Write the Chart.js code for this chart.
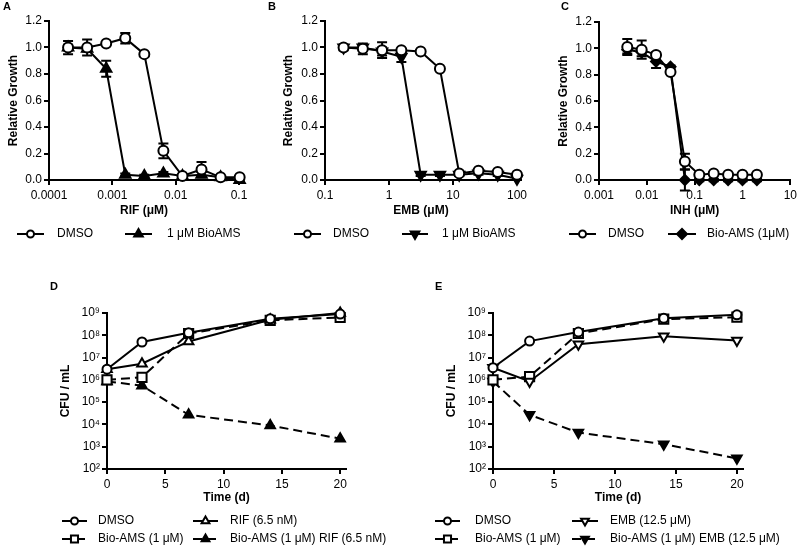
<!DOCTYPE html>
<html>
<head>
<meta charset="utf-8">
<script src="https://cdn.jsdelivr.net/npm/chart.js@4.4.0/dist/chart.umd.min.js"></script>
<style>
  body { margin: 0; background: #fff; width: 800px; height: 546px; position: relative; overflow: hidden; }
  canvas { position: absolute; }
</style>
</head>
<body>
<canvas id="chartA" width="265" height="270" style="left:0;top:0"></canvas>
<canvas id="chartB" width="265" height="270" style="left:265px;top:0"></canvas>
<canvas id="chartC" width="270" height="270" style="left:530px;top:0"></canvas>
<canvas id="chartD" width="400" height="271" style="left:0;top:275px"></canvas>
<canvas id="chartE" width="400" height="271" style="left:400px;top:275px"></canvas>
<script>
// A - RIF dose response
const rifConc = [0.0002, 0.0004, 0.0008, 0.0016, 0.0032, 0.0064, 0.0128, 0.0256, 0.0512, 0.1024];
const rifDmso = [1.00, 1.00, 1.03, 1.07, 0.95, 0.22, 0.03, 0.08, 0.02, 0.02];
const rifDmsoErr = [0.05, 0.06, 0.01, 0.04, 0.01, 0.055, 0.01, 0.055, 0.01, 0.01];
const rifBio = [1.00, 0.99, 0.84, 0.04, 0.03, 0.05, 0.03, 0.04, 0.02, 0.00];
const rifBioErr = [0.02, 0.02, 0.06, 0.01, 0.01, 0.01, 0.01, 0.02, 0.01, 0.01];

// B - EMB dose response
const embConc = [0.195, 0.39, 0.78, 1.56, 3.125, 6.25, 12.5, 25, 50, 100];
const embDmso = [1.00, 0.99, 0.98, 0.98, 0.97, 0.84, 0.05, 0.07, 0.06, 0.04];
const embDmsoErr = [0.02, 0.04, 0.06, 0.01, 0.01, 0.01, 0.01, 0.01, 0.01, 0.01];
const embBio = [1.00, 1.00, 0.97, 0.93, 0.04, 0.04, 0.04, 0.05, 0.04, 0.01];
const embBioErr = [0.01, 0.02, 0.03, 0.04, 0.01, 0.01, 0.01, 0.01, 0.01, 0.01];

// C - INH dose response
const inhConc = [0.0039, 0.0078, 0.0156, 0.03125, 0.0625, 0.125, 0.25, 0.5, 1, 2];
const inhDmso = [1.01, 0.99, 0.95, 0.82, 0.14, 0.04, 0.05, 0.04, 0.04, 0.04];
const inhDmsoErr = [0.06, 0.07, 0.02, 0.01, 0.06, 0.01, 0.01, 0.01, 0.01, 0.01];
const inhBio = [0.99, 0.97, 0.90, 0.86, 0.00, 0.00, 0.00, 0.00, 0.00, 0.00];
const inhBioErr = [0.03, 0.03, 0.05, 0.01, 0.08, 0.01, 0.01, 0.01, 0.01, 0.01];

// D / E - time kill
const days = [0, 3, 7, 14, 20];
const dDmso = [3e6, 5e7, 1.3e8, 5.5e8, 9e8];
const dBio = [1e6, 1.3e6, 1.2e8, 4.7e8, 6.3e8];
const dRif = [3e6, 5.3e6, 5.3e7, 5e8, 1e9];
const dBioRif = [8.5e5, 5.5e5, 2.7e4, 9e3, 2.3e3];

const eDmso = [3.5e6, 5.5e7, 1.4e8, 5.8e8, 8.3e8];
const eBio = [1e6, 1.4e6, 1.2e8, 5.3e8, 6.5e8];
const eEmb = [3.5e6, 8.5e5, 4e7, 9e7, 5.8e7];
const eBioEmb = [8.5e5, 2.7e4, 4.3e3, 1.3e3, 3e2];

// ticks
const growthTicks = [0, 0.2, 0.4, 0.6, 0.8, 1.0, 1.2];
const rifTicks = [0.0001, 0.001, 0.01, 0.1];
const rifLabels = ['0.0001', '0.001', '0.01', '0.1'];
const embTicks = [0.1, 1, 10, 100];
const embLabels = ['0.1', '1', '10', '100'];
const inhTicks = [0.001, 0.01, 0.1, 1, 10];
const inhLabels = ['0.001', '0.01', '0.1', '1', '10'];
const dayTicks = [0, 5, 10, 15, 20];
const cfuTicks = [1e2, 1e3, 1e4, 1e5, 1e6, 1e7, 1e8, 1e9];
const cfuLabels = ['10²', '10³', '10⁴', '10⁵', '10⁶', '10⁷', '10⁸', '10⁹'];

Chart.defaults.font.family = '"Liberation Sans", Arial, sans-serif';
Chart.defaults.font.size = 12;
Chart.defaults.color = '#000';

const FONT = '"Liberation Sans", Arial, sans-serif';

let errorBars = {
    id: 'errorBars',
    beforeDatasetsDraw(chart) {
        const ctx = chart.ctx;
        const ys = chart.scales.y;
        chart.data.datasets.forEach((ds, i) => {
            if (!ds.errors) return;
            const meta = chart.getDatasetMeta(i);
            ctx.save();
            ctx.strokeStyle = '#000';
            ctx.lineWidth = 2;
            meta.data.forEach((pt, j) => {
                const e = ds.errors[j];
                if (!e) return;
                const v = ds.data[j].y;
                const top = ys.getPixelForValue(v + e);
                const bot = ys.getPixelForValue(v - e);
                ctx.beginPath();
                ctx.moveTo(pt.x, top); ctx.lineTo(pt.x, bot);
                ctx.moveTo(pt.x - 5, top); ctx.lineTo(pt.x + 5, top);
                ctx.moveTo(pt.x - 5, bot); ctx.lineTo(pt.x + 5, bot);
                ctx.stroke();
            });
            ctx.restore();
        });
    }
};

let lineLegend = {
    id: 'lineLegend',
    afterDraw(chart, args, opts) {
        const ctx = chart.ctx;
        opts.items.forEach(it => {
            const ds = chart.data.datasets[it.ds];
            ctx.save();
            ctx.strokeStyle = '#000';
            ctx.lineWidth = 2;
            ctx.setLineDash(ds.borderDash || []);
            ctx.beginPath();
            ctx.moveTo(it.x1, it.y);
            ctx.lineTo(it.x2, it.y);
            ctx.stroke();
            ctx.setLineDash([]);
            ctx.fillStyle = ds.pointBackgroundColor;
            Chart.helpers.drawPoint(ctx, {
                pointStyle: ds.pointStyle,
                rotation: ds.pointRotation || 0,
                radius: it.r,
                borderWidth: 2
            }, (it.x1 + it.x2) / 2, it.y);
            ctx.fillStyle = '#000';
            ctx.font = '12px ' + FONT;
            ctx.textBaseline = 'middle';
            ctx.fillText(ds.label, it.tx, it.y);
            ctx.restore();
        });
        ctx.save();
        ctx.fillStyle = '#000';
        ctx.font = 'bold 11px ' + FONT;
        ctx.textBaseline = 'middle';
        ctx.fillText(opts.tag, opts.tagX, opts.tagY);
        ctx.restore();
    }
};

function pairs(xs, ys) {
    return xs.map((x, i) => ({ x: x, y: ys[i] }));
}

function series(label, xs, ys, errs, style, open, radius, dashed, rotation) {
    return {
        label: label,
        data: pairs(xs, ys),
        errors: errs,
        borderColor: '#000',
        borderWidth: 2,
        borderDash: dashed ? [9, 5] : [],
        pointStyle: style,
        pointRotation: rotation || 0,
        pointRadius: radius,
        pointBorderWidth: 2,
        pointBorderColor: '#000',
        pointBackgroundColor: open ? '#fff' : '#000',
        tension: 0,
        clip: false
    };
}

function axisStyle(title, titlePad) {
    return {
        grid: { drawOnChartArea: false, drawTicks: true, tickLength: 5, color: '#000', lineWidth: 2 },
        border: { color: '#000', width: 2 },
        title: { display: true, text: title, font: { size: 12, weight: 'bold' }, color: '#000', padding: titlePad }
    };
}

function makeChart(id, cfg) {
    const ctx = document.getElementById(id).getContext('2d');
    const x = Object.assign(axisStyle(cfg.xTitle, { top: 2, bottom: 4 }), {
        type: cfg.xType, min: cfg.xMin, max: cfg.xMax,
        afterBuildTicks: s => { s.ticks = cfg.xTicks.map(v => ({ value: v })); },
        afterFit: s => { s.height = cfg.xHeight; },
        ticks: { callback: (v, i) => cfg.xLabels[i], autoSkip: false, maxRotation: 0, padding: 3, color: '#000' }
    });
    const y = Object.assign(axisStyle(cfg.yTitle, { top: 4, bottom: 2 }), {
        type: cfg.yType, min: cfg.yMin, max: cfg.yMax,
        afterBuildTicks: s => { s.ticks = cfg.yTicks.map(v => ({ value: v })); },
        afterFit: s => { s.width = cfg.yWidth; },
        ticks: { callback: (v, i) => cfg.yLabels[i], autoSkip: false, padding: 2, color: '#000' }
    });
    return new Chart(ctx, {
        type: 'line',
        data: { datasets: cfg.datasets },
        options: {
            responsive: false,
            animation: false,
            devicePixelRatio: 1,
            layout: { padding: cfg.padding },
            scales: { x: x, y: y },
            plugins: {
                legend: { display: false },
                tooltip: { enabled: false },
                lineLegend: cfg.legend
            }
        },
        plugins: [errorBars, lineLegend]
    });
}

const growthLabels = growthTicks.map(v => v.toFixed(1));

window.onload = function () {
    makeChart('chartA', {
        xType: 'logarithmic', xMin: 0.0001, xMax: 0.1, xTicks: rifTicks, xLabels: rifLabels, xTitle: 'RIF (μM)', xHeight: 42,
        yType: 'linear', yMin: 0, yMax: 1.2, yTicks: growthTicks, yLabels: growthLabels, yTitle: 'Relative Growth', yWidth: 47,
        padding: { left: 2, top: 21, right: 26, bottom: 48 },
        datasets: [
            series('DMSO', rifConc, rifDmso, rifDmsoErr, 'circle', true, 5),
            series('1 μM BioAMS', rifConc, rifBio, rifBioErr, 'triangle', false, 6)
        ],
        legend: {
            tag: 'A', tagX: 3, tagY: 7,
            items: [
                { ds: 0, x1: 17, x2: 44, y: 234, tx: 57, r: 3.5 },
                { ds: 1, x1: 125, x2: 152, y: 234, tx: 167, r: 5 }
            ]
        }
    });

    makeChart('chartB', {
        xType: 'logarithmic', xMin: 0.1, xMax: 100, xTicks: embTicks, xLabels: embLabels, xTitle: 'EMB (μM)', xHeight: 42,
        yType: 'linear', yMin: 0, yMax: 1.2, yTicks: growthTicks, yLabels: growthLabels, yTitle: 'Relative Growth', yWidth: 48,
        padding: { left: 12, top: 21, right: 11, bottom: 48 },
        datasets: [
            series('DMSO', embConc, embDmso, embDmsoErr, 'circle', true, 5),
            series('1 μM BioAMS', embConc, embBio, embBioErr, 'triangle', false, 6, false, 180)
        ],
        legend: {
            tag: 'B', tagX: 3, tagY: 7,
            items: [
                { ds: 0, x1: 29, x2: 56, y: 234, tx: 68, r: 3.5 },
                { ds: 1, x1: 137, x2: 163, y: 234, tx: 177, r: 5 }
            ]
        }
    });

    makeChart('chartC', {
        xType: 'logarithmic', xMin: 0.001, xMax: 10, xTicks: inhTicks, xLabels: inhLabels, xTitle: 'INH (μM)', xHeight: 42,
        yType: 'linear', yMin: 0, yMax: 1.2, yTicks: growthTicks, yLabels: growthLabels, yTitle: 'Relative Growth', yWidth: 47,
        padding: { left: 22, top: 22, right: 7, bottom: 48 },
        datasets: [
            series('DMSO', inhConc, inhDmso, inhDmsoErr, 'circle', true, 5),
            series('Bio-AMS (1μM)', inhConc, inhBio, inhBioErr, 'rectRot', false, 5)
        ],
        legend: {
            tag: 'C', tagX: 31, tagY: 7,
            items: [
                { ds: 0, x1: 39, x2: 66, y: 234, tx: 78, r: 3.5 },
                { ds: 1, x1: 138, x2: 166, y: 234, tx: 177, r: 5 }
            ]
        }
    });

    makeChart('chartD', {
        xType: 'linear', xMin: 0, xMax: 20.5, xTicks: dayTicks, xLabels: dayTicks.map(String), xTitle: 'Time (d)', xHeight: 40,
        yType: 'logarithmic', yMin: 1e2, yMax: 1e9, yTicks: cfuTicks, yLabels: cfuLabels, yTitle: 'CFU / mL', yWidth: 53,
        padding: { left: 54, top: 38, right: 54, bottom: 37 },
        datasets: [
            series('DMSO', days, dDmso, null, 'circle', true, 4.5),
            series('RIF (6.5 nM)', days, dRif, null, 'triangle', true, 5.5),
            series('Bio-AMS (1 μM)', days, dBio, null, 'rect', true, 6.5, true),
            series('Bio-AMS (1 μM) RIF (6.5 nM)', days, dBioRif, null, 'triangle', false, 5.5, true)
        ],
        legend: {
            tag: 'D', tagX: 50, tagY: 12,
            items: [
                { ds: 0, x1: 62, x2: 87, y: 246, tx: 98, r: 3.5 },
                { ds: 1, x1: 193, x2: 218, y: 246, tx: 230, r: 4.5 },
                { ds: 2, x1: 62, x2: 87, y: 264, tx: 98, r: 5 },
                { ds: 3, x1: 193, x2: 218, y: 264, tx: 230, r: 4.5 }
            ]
        }
    });

    makeChart('chartE', {
        xType: 'linear', xMin: 0, xMax: 20.5, xTicks: dayTicks, xLabels: dayTicks.map(String), xTitle: 'Time (d)', xHeight: 40,
        yType: 'logarithmic', yMin: 1e2, yMax: 1e9, yTicks: cfuTicks, yLabels: cfuLabels, yTitle: 'CFU / mL', yWidth: 53,
        padding: { left: 40, top: 38, right: 57, bottom: 37 },
        datasets: [
            series('DMSO', days, eDmso, null, 'circle', true, 4.5),
            series('EMB (12.5 μM)', days, eEmb, null, 'triangle', true, 5.5, false, 180),
            series('Bio-AMS (1 μM)', days, eBio, null, 'rect', true, 6.5, true),
            series('Bio-AMS (1 μM) EMB (12.5 μM)', days, eBioEmb, null, 'triangle', false, 5.5, true, 180)
        ],
        legend: {
            tag: 'E', tagX: 35, tagY: 12,
            items: [
                { ds: 0, x1: 35, x2: 60, y: 246, tx: 75, r: 3.5 },
                { ds: 1, x1: 172, x2: 198, y: 246, tx: 210, r: 4.5 },
                { ds: 2, x1: 35, x2: 60, y: 264, tx: 75, r: 5 },
                { ds: 3, x1: 172, x2: 198, y: 264, tx: 210, r: 4.5 }
            ]
        }
    });
};
</script>
</body>
</html>
